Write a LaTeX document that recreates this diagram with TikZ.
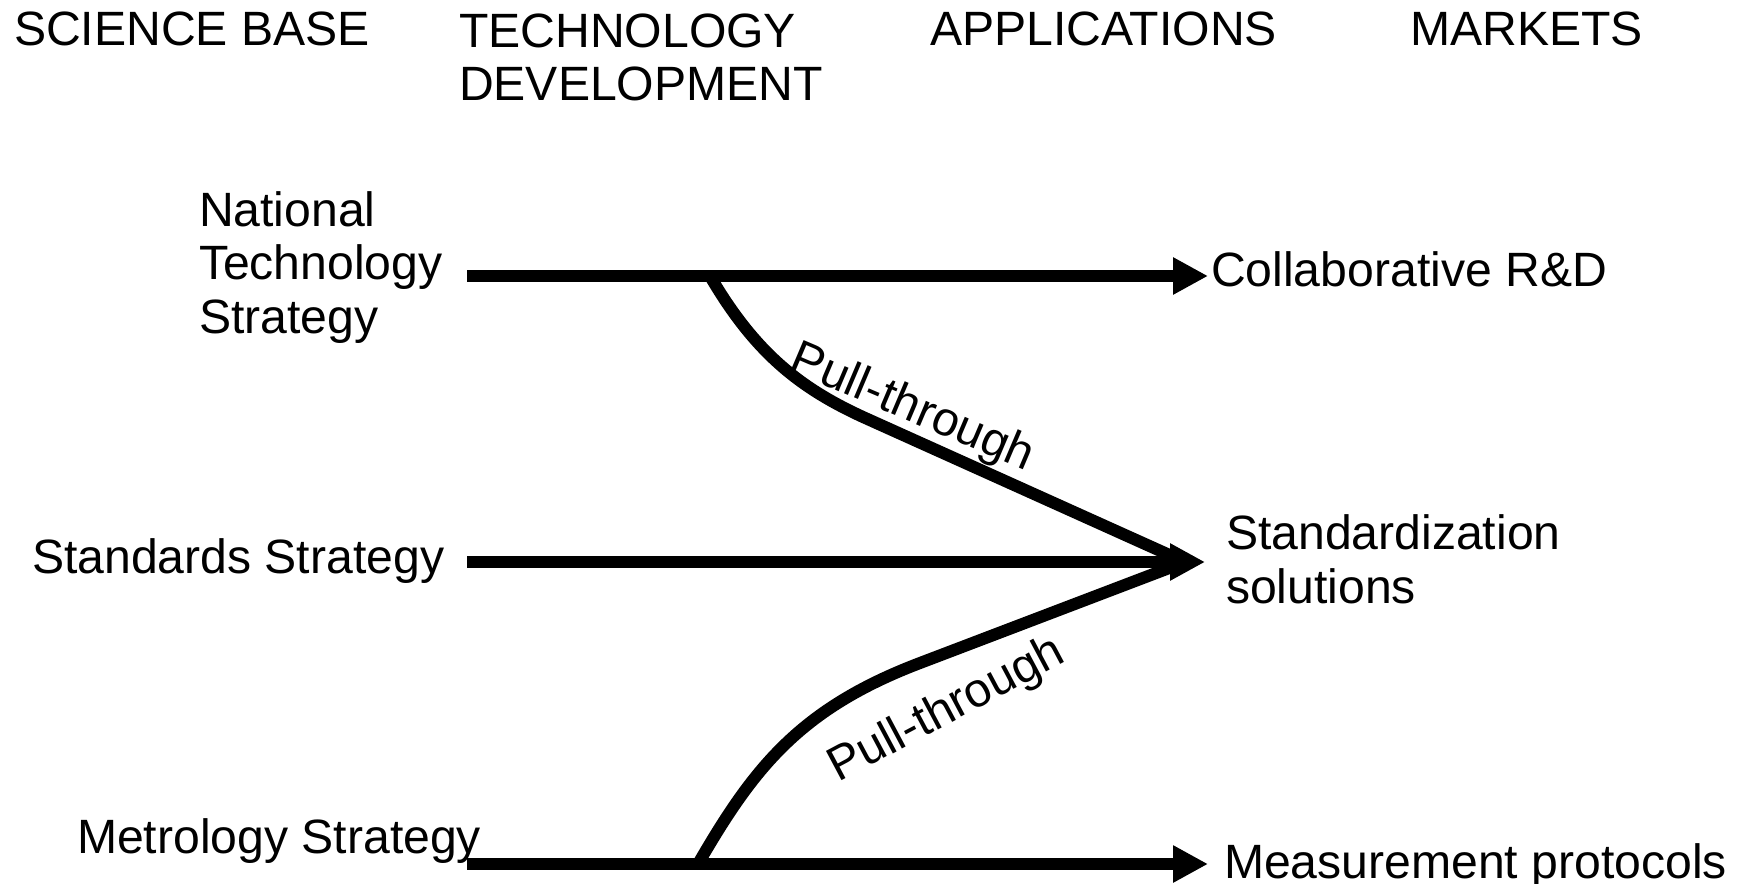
\documentclass[tikz,border=0pt]{standalone}
\usepackage{fontspec}
\setmainfont{Liberation Sans}
\usetikzlibrary{arrows.meta,positioning}

\tikzset{
  lbl/.style={anchor=base west,align=left},
  pull/.style={anchor=center}
}

\begin{document}
\begin{tikzpicture}[line width=1.2mm,>={Triangle[length=3.5mm,width=3.5mm]},
  every node/.style={inner sep=0pt,font=\fontsize{13.7}{15.1}\selectfont}]
  \useasboundingbox (0,0) rectangle (17.42,8.83);

  \node[lbl]   (sci)    at (0.08,8.37)  {SCIENCE BASE};
  \node[lbl]   (tech)   at (4.53,7.82)  {TECHNOLOGY\\DEVELOPMENT};
  \node[lbl]   (app)    at (9.24,8.37)  {APPLICATIONS};
  \node[lbl]   (mkt)    at (14.04,8.37) {MARKETS};

  \node[lbl]   (nts)    at (1.93,5.50)  {National\\Technology\\Strategy};
  \node[lbl]   (std)    at (0.26,3.10)  {Standards Strategy};
  \node[lbl]   (met)    at (0.71,0.30)  {Metrology Strategy};

  \node[lbl]   (collab) at (12.05,5.96) {Collaborative R\&D};
  \node[lbl]   (stdsol) at (12.20,2.80) {Standardization\\solutions};
  \node[lbl]   (meas)   at (12.18,0.05) {Measurement protocols};

  \coordinate (nts-in)   at (4.67,6.07);
  \coordinate (nts-out)  at (12.08,6.07);
  \coordinate (std-in)   at (4.67,3.21);
  \coordinate (std-out)  at (12.05,3.21);
  \coordinate (met-in)   at (4.67,0.19);
  \coordinate (met-out)  at (12.08,0.19);
  \coordinate (top-fork) at (7.10,6.07);
  \coordinate (bot-fork) at (6.98,0.19);
  \coordinate (merge)    at (11.85,3.21);

  \draw[->] (nts-in) -- (nts-out);
  \draw[->] (std-in) -- (std-out);
  \draw[->] (met-in) -- (met-out);

  % pull-through curves
  \draw (top-fork) .. controls (7.55,5.30) and (8.00,4.95) .. (8.63,4.66) -- (merge);
  \draw (bot-fork) .. controls (7.53,1.14) and (7.99,1.74) .. (9.20,2.20) -- (merge);

  \node[pull,rotate=-23] (pull-a) at (9.12,4.74) {Pull-through};
  \node[pull,rotate=28]  (pull-b) at (9.47,1.72) {Pull-through};
\end{tikzpicture}
\end{document}
